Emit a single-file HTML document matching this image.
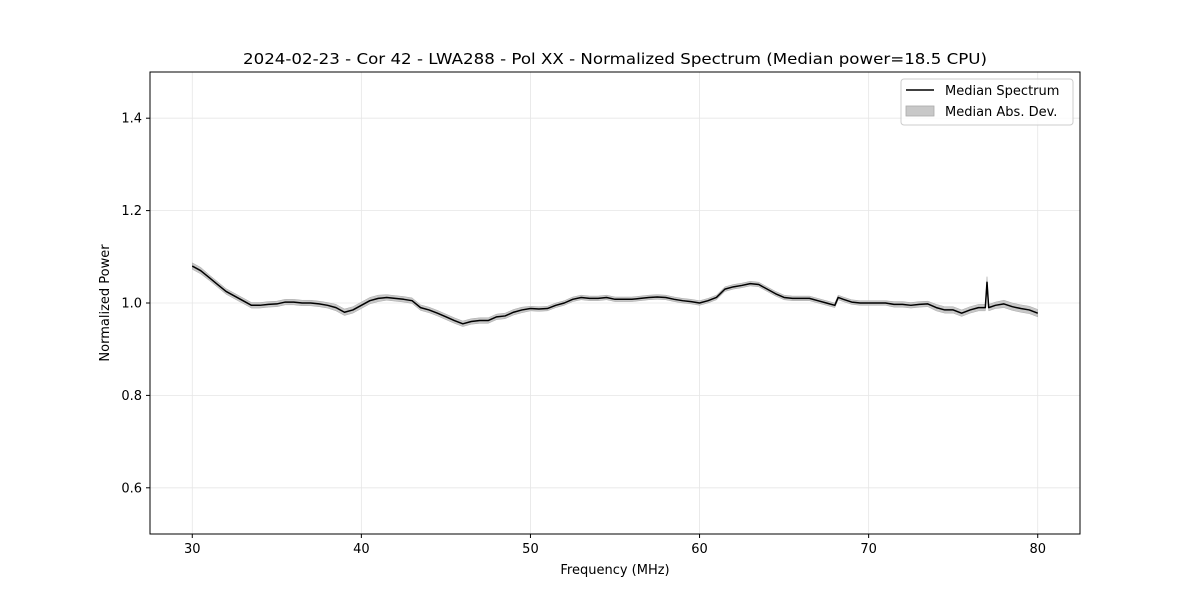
<!DOCTYPE html>
<html><head><meta charset="utf-8"><style>
body{margin:0;background:#fff;}
svg{font-family:"DejaVu Sans","Liberation Sans",sans-serif;}
</style></head><body>
<svg id="chart" width="1200" height="600" viewBox="0 0 1200 600">
<rect width="1200" height="600" fill="#fff"/>
<g id="grid"></g>
<g id="band"></g>
<g id="line"></g>
<rect x="150" y="72" width="930" height="462" fill="none" stroke="#000" stroke-width="1"/>
<g id="xticks"></g>
<g id="yticks"></g>
<text x="615" y="64" text-anchor="middle" font-size="15.5" textLength="744" lengthAdjust="spacingAndGlyphs">2024-02-23 - Cor 42 - LWA288 - Pol XX - Normalized Spectrum (Median power=18.5 CPU)</text>
<text x="615" y="574" text-anchor="middle" font-size="13">Frequency (MHz)</text>
<text x="0" y="0" transform="translate(109,303) rotate(-90)" text-anchor="middle" font-size="13">Normalized Power</text>
<g>
<rect x="901" y="79" width="172" height="46" rx="3" fill="#fff" fill-opacity="0.8" stroke="#ccc"/>
<line x1="906" y1="90" x2="934" y2="90" stroke="#000" stroke-width="1.5"/>
<text x="945" y="95" font-size="13">Median Spectrum</text>
<rect x="906" y="106" width="28" height="10" fill="#c8c8c8" stroke="#aaa" stroke-width="0.8"/>
<text x="945" y="116" font-size="13">Median Abs. Dev.</text>
</g>
</svg>
<script>
const freqs=[30,30.5,31,31.5,32,32.5,33,33.5,34,34.5,35,35.5,36,36.5,37,37.5,38,38.5,39,39.5,40,40.5,41,41.5,42,42.5,43,43.5,44,44.5,45,45.5,46,46.5,47,47.5,48,48.5,49,49.5,50,50.5,51,51.5,52,52.5,53,53.5,54,54.5,55,55.5,56,56.5,57,57.5,58,58.5,59,59.5,60,60.5,61,61.5,62,62.5,63,63.5,64,64.5,65,65.5,66,66.5,67,67.5,68,68.2,68.5,69,69.5,70,70.5,71,71.5,72,72.5,73,73.5,74,74.5,75,75.5,76,76.5,76.9,77,77.1,77.5,78,78.5,79,79.5,80];
const power=[1.08,1.07,1.055,1.04,1.025,1.015,1.005,0.995,0.995,0.997,0.998,1.002,1.002,1.0,1.0,0.998,0.995,0.99,0.98,0.985,0.995,1.005,1.01,1.012,1.01,1.008,1.005,0.99,0.985,0.978,0.97,0.962,0.955,0.96,0.962,0.962,0.97,0.972,0.98,0.985,0.988,0.987,0.988,0.995,1.0,1.008,1.012,1.01,1.01,1.012,1.008,1.008,1.008,1.01,1.012,1.013,1.012,1.008,1.005,1.003,1.0,1.005,1.012,1.03,1.035,1.038,1.042,1.04,1.03,1.02,1.012,1.01,1.01,1.01,1.005,1.0,0.995,1.012,1.008,1.002,1.0,1.0,1.0,1.0,0.997,0.997,0.995,0.997,0.998,0.99,0.985,0.985,0.978,0.985,0.99,0.99,1.045,0.99,0.995,0.998,0.992,0.988,0.985,0.978];
const mad=[0.007,0.007,0.006,0.006,0.006,0.006,0.006,0.006,0.006,0.006,0.006,0.006,0.006,0.006,0.006,0.006,0.006,0.007,0.007,0.007,0.007,0.007,0.007,0.006,0.006,0.006,0.006,0.006,0.006,0.006,0.006,0.006,0.006,0.006,0.006,0.006,0.006,0.006,0.006,0.006,0.005,0.005,0.005,0.005,0.005,0.005,0.005,0.005,0.005,0.005,0.005,0.005,0.005,0.005,0.005,0.005,0.005,0.005,0.005,0.005,0.005,0.005,0.005,0.005,0.005,0.005,0.005,0.005,0.005,0.005,0.005,0.005,0.005,0.005,0.005,0.005,0.005,0.005,0.005,0.005,0.005,0.005,0.005,0.005,0.006,0.006,0.006,0.006,0.006,0.007,0.007,0.007,0.007,0.007,0.007,0.007,0.012,0.007,0.007,0.008,0.008,0.008,0.008,0.008];
const xTicks=[30,40,50,60,70,80];
const yTicks=[0.6,0.8,1.0,1.2,1.4];
const yTickLabels=["0.6","0.8","1.0","1.2","1.4"];
const X0=150,X1=1080,Y0=534,Y1=72,xmin=27.5,xmax=82.5,ymin=0.5,ymax=1.5;
const sx=v=>X0+(v-xmin)/(xmax-xmin)*(X1-X0);
const sy=v=>Y0-(v-ymin)/(ymax-ymin)*(Y0-Y1);
const NS="http://www.w3.org/2000/svg";
function mk(tag,attrs,parent){const e=document.createElementNS(NS,tag);for(const k in attrs)e.setAttribute(k,attrs[k]);parent.appendChild(e);return e;}
const grid=document.getElementById('grid'),xt=document.getElementById('xticks'),yt=document.getElementById('yticks');
xTicks.forEach(t=>{const x=sx(t);
 const g=mk('line',{x1:x,x2:x,y1:Y1,y2:Y0,stroke:'#e6e6e6','stroke-width':0.8},grid);
 
 
 const tk=mk('line',{x1:x,x2:x,y1:Y0,y2:Y0+4,stroke:'#000'},xt);
 
 
 const tx=mk('text',{x:x,y:Y0+19,'text-anchor':'middle','font-size':13},xt);tx.textContent=t;
 
 
});
yTicks.forEach((t,i)=>{const y=sy(t);
 const g=mk('line',{x1:X0,x2:X1,y1:y,y2:y,stroke:'#e6e6e6','stroke-width':0.8},grid);
 
 
 const tk=mk('line',{x1:X0-4,x2:X0,y1:y,y2:y,stroke:'#000'},yt);
 
 
 const tx=mk('text',{x:X0-8,y:y+4.5,'text-anchor':'end','font-size':13},yt);tx.textContent=yTickLabels[i];
 
 
});
let up=freqs.map((f,i)=>sx(f)+','+sy(power[i]+mad[i]));
let dn=freqs.map((f,i)=>sx(f)+','+sy(power[i]-mad[i])).reverse();
const band=mk('polygon',{points:up.concat(dn).join(' '),fill:'#c8c8c8',stroke:'#aaa','stroke-width':0.5},document.getElementById('band'));


const ln=mk('polyline',{points:freqs.map((f,i)=>sx(f)+','+sy(power[i])).join(' '),fill:'none',stroke:'#000','stroke-width':1.5,'stroke-linejoin':'round'},document.getElementById('line'));


</script>
</body></html>
